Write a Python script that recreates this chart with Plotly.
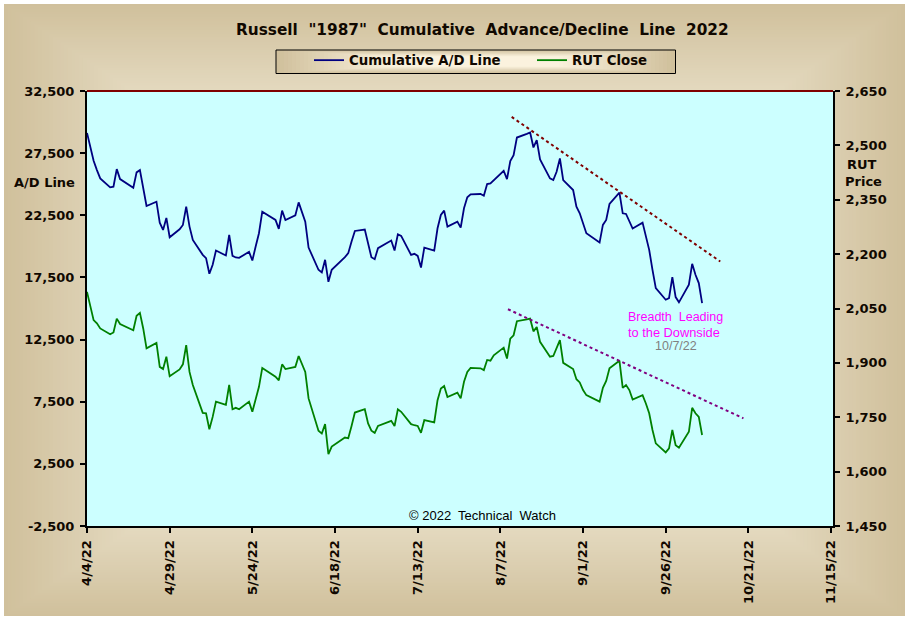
import pandas as pd
import plotly.graph_objects as go

W, H = 910, 621
PL, PR, PT, PB = 87, 833, 91, 526

closed = ["2022-04-15", "2022-05-30", "2022-06-20", "2022-07-04", "2022-09-05"]
dates = [d for d in pd.bdate_range("2022-04-04", "2022-10-07") if d.strftime("%Y-%m-%d") not in closed]

ad_line = [
    29130, 27870, 26885, 26135, 25470, 24745, 24800, 26215, 25415, 24720,
    25950, 26135, 24800, 23250, 23595, 21910, 21325, 22285, 20735, 21375,
    21725, 23195, 21590, 20520, 19315, 19050, 17795, 18515, 19665, 19265,
    20920, 19235, 19105, 19075, 19560, 18865, 19985, 21055, 22795, 22125,
    21405, 22875, 22125, 22500, 23540, 22795, 21990, 19905, 18115, 17900,
    18915, 17150, 18115, 19130, 19450, 20385, 21240, 21350, 20120, 19130,
    18970, 19850, 20465, 19665, 20975, 20840, 19315, 19400, 19235, 18300,
    19905, 19665, 21455, 22525, 22875, 21590, 21990, 21510, 23060, 23945,
    24185, 24210, 24075, 25015, 25065, 25305, 26080, 25415, 26860, 27340,
    28755, 29050, 29160, 27955, 28540, 26990, 25470, 25335, 26000, 27070,
    25335, 24530, 23195, 22660, 21860, 21055, 20305, 21725, 22125, 23410,
    24320, 22660, 22605, 21990, 21430, 21910, 20920, 19720, 18115, 16645,
    15705, 15840, 17525, 15920, 15495, 16910, 18595, 17715, 17045, 15440,
]
rut_close = [
    2096, 2055, 2018, 2009, 1995, 1979, 1984, 2022, 2007, 1990,
    2030, 2038, 1995, 1940, 1955, 1889, 1883, 1917, 1863, 1882,
    1896, 1949, 1875, 1839, 1762, 1761, 1717, 1751, 1793, 1784,
    1839, 1772, 1776, 1772, 1793, 1765, 1797, 1834, 1886, 1862,
    1852, 1896, 1883, 1889, 1919, 1898, 1875, 1802, 1713, 1705,
    1731, 1648, 1669, 1694, 1692, 1726, 1763, 1772, 1733, 1713,
    1707, 1726, 1740, 1726, 1772, 1765, 1731, 1728, 1726, 1707,
    1742, 1736, 1797, 1829, 1836, 1806, 1818, 1802, 1848, 1875,
    1886, 1885, 1880, 1908, 1906, 1921, 1942, 1912, 1967, 1976,
    2015, 2020, 2022, 1987, 1999, 1958, 1917, 1919, 1940, 1963,
    1900, 1883, 1855, 1846, 1825, 1811, 1793, 1831, 1850, 1885,
    1906, 1831, 1839, 1825, 1799, 1811, 1788, 1761, 1715, 1678,
    1653, 1664, 1715, 1673, 1666, 1710, 1776, 1761, 1751, 1701,
]
trend_ad_x = ["2022-08-10 10:00", "2022-10-12 12:00"]
trend_ad_y = [30414, 18782]
trend_rut_x = ["2022-08-09 07:00", "2022-10-19 12:00"]
trend_rut_y = [2048, 1747]

x_ticks = ["2022-04-04", "2022-04-29", "2022-05-24", "2022-06-18", "2022-07-13",
           "2022-08-07", "2022-09-01", "2022-09-26", "2022-10-21", "2022-11-15"]
x_labels = ["4/4/22", "4/29/22", "5/24/22", "6/18/22", "7/13/22",
            "8/7/22", "9/1/22", "9/26/22", "10/21/22", "11/15/22"]
left_ticks = [-2500, 2500, 7500, 12500, 17500, 22500, 27500, 32500]
right_ticks = [1450, 1600, 1750, 1900, 2050, 2200, 2350, 2500, 2650]

BOLD = "DejaVu Sans"
INK = "#100800"


def px(x):
    return (x - PL) / (PR - PL)


def py(y):
    return (PB - y) / (PB - PT)


def mix(a, b, t):
    t = max(0, min(1, t))
    return "rgb(%d,%d,%d)" % tuple(round(p + (q - p) * t) for p, q in zip(a, b))


def gradient(x0, y0, x1, y1, edge, centre, steps, full):
    out = []
    for i in range(steps):
        t = full * i / steps
        dx, dy = (x1 - x0) / 2 * t, (y1 - y0) / 2 * t
        out.append(dict(type="rect", layer="below", xref="paper", yref="paper",
                        x0=px(x0 + dx), x1=px(x1 - dx), y0=py(y1 - dy), y1=py(y0 + dy),
                        fillcolor=mix(edge, centre, i / steps), line_width=0))
    return out


shapes = gradient(4, 4, 905, 616, (208, 192, 156), (236, 228, 206), 48, 0.4)
shapes.append(dict(type="rect", layer="below", xref="paper", yref="paper",
                   x0=0, x1=1, y0=0, y1=1, fillcolor="#CCFFFF", line_width=0))
shapes += gradient(276, 50, 675, 73, (208, 192, 156), (252, 244, 224), 30, 0.6)
shapes.append(dict(type="rect", layer="below", xref="paper", yref="paper",
                   x0=px(276), x1=px(675.5), y0=py(73.5), y1=py(50),
                   line=dict(color="#000000", width=1), fillcolor="rgba(0,0,0,0)"))
shapes.append(dict(type="line", layer="above", xref="paper", yref="paper",
                   x0=0, x1=1, y0=1, y1=1, line=dict(color="#800000", width=2)))

fig = go.Figure()
fig.add_trace(go.Scatter(x=dates, y=ad_line, name="Cumulative A/D Line", mode="lines",
                         line=dict(color="#000080", width=1.8), yaxis="y"))
fig.add_trace(go.Scatter(x=dates, y=rut_close, name="RUT Close", mode="lines",
                         line=dict(color="#008000", width=1.8), yaxis="y2"))
fig.add_trace(go.Scatter(x=trend_ad_x, y=trend_ad_y, mode="lines", showlegend=False,
                         line=dict(color="#800000", width=2, dash="3px,3px"), yaxis="y"))
fig.add_trace(go.Scatter(x=trend_rut_x, y=trend_rut_y, mode="lines", showlegend=False,
                         line=dict(color="#800080", width=2, dash="3px,3px"), yaxis="y2"))


def note(text, x, y, size=12, color=INK, family="Liberation Sans", bold=False):
    return dict(text=f"<b>{text}</b>" if bold else text, x=px(x), y=py(y),
                xref="paper", yref="paper", xanchor="center", yanchor="middle",
                showarrow=False, font=dict(size=size, color=color, family=family))


NB = "\u00a0"
annotations = [
    note(f'Russell{NB} "1987"{NB} Cumulative{NB} Advance/Decline{NB} Line{NB} 2022', 482, 30, 15.3, INK, BOLD, True),
    note("A/D Line", 44, 182, 13, INK, BOLD, True),
    note("RUT", 862, 164, 13, INK, BOLD, True),
    note("Price", 863, 181, 13, INK, BOLD, True),
    note(f"Breadth{NB} Leading", 675.5, 317, 12.5, "#FF00FF"),
    note("to the Downside", 674, 332, 12.8, "#FF00FF"),
    note("10/7/22", 676, 346, 12.5, "#808080"),
    note(f"© 2022{NB} Technical{NB} Watch", 482.5, 515, 13, "#000000"),
]

tickfont = dict(family=BOLD, size=13, color=INK, weight="bold")
fig.update_layout(
    width=W, height=H, autosize=False,
    margin=dict(l=PL, r=W - PR, t=PT, b=H - PB, pad=0),
    paper_bgcolor="#FFFFFF", plot_bgcolor="rgba(0,0,0,0)",
    shapes=shapes, annotations=annotations,
    legend=dict(orientation="h", x=px(309), y=py(60.5), xanchor="left", yanchor="middle",
                bgcolor="rgba(0,0,0,0)", borderwidth=0, itemwidth=30,
                entrywidth=178, entrywidthmode="pixels",
                font=dict(family=BOLD, size=13.3, color=INK, weight="bold")),
    xaxis=dict(type="date", range=["2022-04-04", "2022-11-15 14:00"],
               tickmode="array", tickvals=x_ticks, ticktext=x_labels, tickangle=-90,
               showgrid=False, zeroline=False, showline=True, linecolor="#000000", linewidth=2,
               ticks="outside", ticklen=5, tickwidth=2, tickcolor="#000000", tickfont=tickfont,
               ticklabelstandoff=2),
    yaxis=dict(range=[-2500, 32500], tickmode="array", tickvals=left_ticks,
               ticktext=[f"{v:,}" for v in left_ticks],
               showgrid=False, zeroline=False, showline=True, linecolor="#000000", linewidth=2,
               ticks="outside", ticklen=5, tickwidth=2, tickcolor="#000000", tickfont=tickfont,
               ticklabelstandoff=3),
    yaxis2=dict(range=[1450, 2650], overlaying="y", side="right", tickmode="array",
                tickvals=right_ticks, ticktext=[f"{v:,}" for v in right_ticks],
                showgrid=False, zeroline=False, showline=True, linecolor="#000000", linewidth=2,
                ticks="outside", ticklen=5, tickwidth=2, tickcolor="#000000", tickfont=tickfont,
                ticklabelstandoff=3),
)

fig.write_html("out.html", config={"displayModeBar": False},
               post_script="document.body.style.margin='0';document.body.style.overflow='hidden';")
